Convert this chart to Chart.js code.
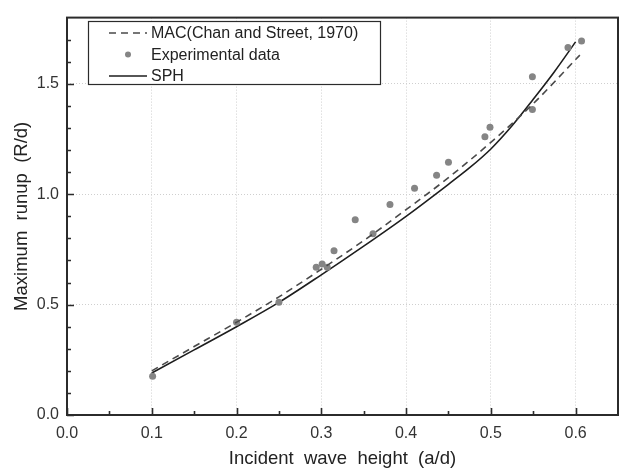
<!DOCTYPE html>
<html>
<head>
<meta charset="utf-8">
<script src="https://cdn.jsdelivr.net/npm/chart.js@4"></script>
<style>
  html, body { margin: 0; padding: 0; background: #fff; }
  #wrap { width: 624px; height: 473px; }
</style>
</head>
<body>
<div id="wrap"><canvas id="runup"></canvas></div>
<script>
// MAC (Chan and Street, 1970)
const macX = [0.10, 0.15, 0.20, 0.25, 0.30, 0.35, 0.40, 0.45, 0.50, 0.55, 0.60, 0.605];
const macY = [0.20, 0.31, 0.42, 0.535, 0.66, 0.79, 0.93, 1.075, 1.235, 1.41, 1.61, 1.63];

// SPH
const sphX = [0.10, 0.15, 0.20, 0.25, 0.30, 0.35, 0.40, 0.45, 0.475, 0.50, 0.525, 0.55, 0.575, 0.60];
const sphY = [0.19, 0.295, 0.40, 0.51, 0.635, 0.765, 0.90, 1.045, 1.12, 1.205, 1.31, 1.43, 1.555, 1.69];

// Experimental data
const expX = [0.101, 0.200, 0.250, 0.294, 0.301, 0.307, 0.315, 0.340, 0.361, 0.381, 0.410, 0.436, 0.450, 0.493, 0.499, 0.549, 0.549, 0.591, 0.607];
const expY = [0.176, 0.420, 0.511, 0.669, 0.684, 0.669, 0.744, 0.884, 0.821, 0.954, 1.027, 1.086, 1.145, 1.260, 1.303, 1.532, 1.384, 1.665, 1.694];

// axis ticks (minor + major)
const xTicks = [0, 0.05, 0.1, 0.15, 0.2, 0.25, 0.3, 0.35, 0.4, 0.45, 0.5, 0.55, 0.6];
const yTicks = [0, 0.1, 0.2, 0.3, 0.4, 0.5, 0.6, 0.7, 0.8, 0.9, 1.0, 1.1, 1.2, 1.3, 1.4, 1.5, 1.6, 1.7];
const xMajor = [0, 0.1, 0.2, 0.3, 0.4, 0.5, 0.6];
const yMajor = [0, 0.5, 1.0, 1.5];

const pts = (xs, ys) => xs.map((x, i) => ({ x: x, y: ys[i] }));
const inList = (v, list) => list.some(m => Math.abs(m - v) < 1e-6);

const FONT = "'Liberation Sans', Arial, sans-serif";
const INK = '#2b2b2b';

// draw the frame and the inward tick marks
const frameTicks = {
  id: 'frameTicks',
  afterDatasetsDraw(chart) {
    const { ctx, chartArea: a, scales } = chart;
    ctx.save();
    ctx.strokeStyle = INK;
    ctx.lineWidth = 1.6;
    ctx.beginPath();
    xTicks.forEach(v => {
      const px = Math.round(scales.x.getPixelForValue(v)) + 0.5;
      const len = inList(v, xMajor) ? 7 : 4;
      ctx.moveTo(px, a.bottom);
      ctx.lineTo(px, a.bottom - len);
    });
    yTicks.forEach(v => {
      const py = Math.round(scales.y.getPixelForValue(v)) + 0.5;
      const len = inList(v, yMajor) ? 7 : 4;
      ctx.moveTo(a.left, py);
      ctx.lineTo(a.left + len, py);
    });
    ctx.stroke();
    ctx.lineWidth = 2;
    ctx.strokeRect(a.left, a.top, a.right - a.left, a.bottom - a.top);
    ctx.restore();
  }
};

// legend box inside the plot
const boxLegend = {
  id: 'boxLegend',
  afterDraw(chart) {
    const { ctx } = chart;
    const bx = 88, by = 21, bw = 292, bh = 63;
    ctx.save();
    ctx.fillStyle = '#fff';
    ctx.fillRect(bx, by, bw, bh);
    ctx.strokeStyle = INK;
    ctx.lineWidth = 1.2;
    ctx.strokeRect(bx + 0.5, by + 0.5, bw, bh);
    ctx.font = '16px ' + FONT;
    ctx.textBaseline = 'middle';
    chart.data.datasets.forEach((ds, row) => {
      const cy = by + 12 + row * 21.5;
      if (ds.showLine) {
        ctx.strokeStyle = ds.borderColor;
        ctx.lineWidth = ds.borderWidth;
        ctx.setLineDash(ds.borderDash || []);
        ctx.beginPath();
        ctx.moveTo(109, cy);
        ctx.lineTo(147, cy);
        ctx.stroke();
        ctx.setLineDash([]);
      } else {
        ctx.fillStyle = ds.pointBackgroundColor;
        ctx.beginPath();
        ctx.arc(128, cy, ds.pointRadius - 0.5, 0, Math.PI * 2);
        ctx.fill();
      }
      ctx.fillStyle = '#222';
      ctx.fillText(ds.label, 151, cy + 1);
    });
    ctx.restore();
  }
};

const gridColor = list => c => (c.tick && inList(c.tick.value, list) && c.tick.value > 0) ? '#cfcfcf' : 'rgba(0,0,0,0)';

new Chart(document.getElementById('runup').getContext('2d'), {
  type: 'scatter',
  plugins: [frameTicks, boxLegend],
  data: {
    datasets: [{
      label: 'MAC(Chan and Street, 1970)',
      data: pts(macX, macY),
      showLine: true,
      borderColor: '#4a4a4a',
      borderWidth: 1.6,
      borderDash: [7, 5],
      pointRadius: 0,
      cubicInterpolationMode: 'monotone'
    }, {
      label: 'Experimental data',
      data: pts(expX, expY),
      showLine: false,
      pointRadius: 3.5,
      pointBackgroundColor: '#858585',
      pointBorderWidth: 0,
      borderColor: '#858585'
    }, {
      label: 'SPH',
      data: pts(sphX, sphY),
      showLine: true,
      borderColor: '#1e1e1e',
      borderWidth: 1.6,
      pointRadius: 0,
      cubicInterpolationMode: 'monotone'
    }]
  },
  options: {
    responsive: true,
    maintainAspectRatio: false,
    animation: false,
    layout: { padding: { left: 0, right: 6, top: 8, bottom: 0 } },
    plugins: {
      legend: { display: false },
      tooltip: { enabled: false }
    },
    scales: {
      x: {
        type: 'linear',
        min: 0,
        max: 0.65,
        afterFit: s => { s.height = 58; },
        afterBuildTicks: s => { s.ticks = xTicks.map(v => ({ value: v })); },
        border: { display: false, dash: [1, 2] },
        grid: { drawTicks: false, color: gridColor(xMajor), lineWidth: 1 },
        ticks: {
          autoSkip: false,
          maxRotation: 0,
          padding: 9,
          color: '#333',
          font: { family: FONT, size: 16 },
          callback: v => inList(v, xMajor) ? v.toFixed(1) : ''
        },
        title: {
          display: true,
          text: 'Incident  wave  height  (a/d)',
          color: '#222',
          font: { family: FONT, size: 18.5 },
          padding: { top: 0, bottom: 3 }
        }
      },
      y: {
        type: 'linear',
        min: 0,
        max: 1.8,
        afterFit: s => { s.width = 67; },
        afterBuildTicks: s => { s.ticks = yTicks.map(v => ({ value: v })); },
        border: { display: false, dash: [1, 2] },
        grid: { drawTicks: false, color: gridColor(yMajor), lineWidth: 1 },
        ticks: {
          autoSkip: false,
          padding: 8,
          color: '#333',
          font: { family: FONT, size: 16 },
          callback: v => inList(v, yMajor) ? v.toFixed(1) : ''
        },
        title: {
          display: true,
          text: 'Maximum  runup  (R/d)',
          color: '#222',
          font: { family: FONT, size: 18.5 },
          padding: { top: 11, bottom: 0 }
        }
      }
    }
  }
});
</script>
</body>
</html>
